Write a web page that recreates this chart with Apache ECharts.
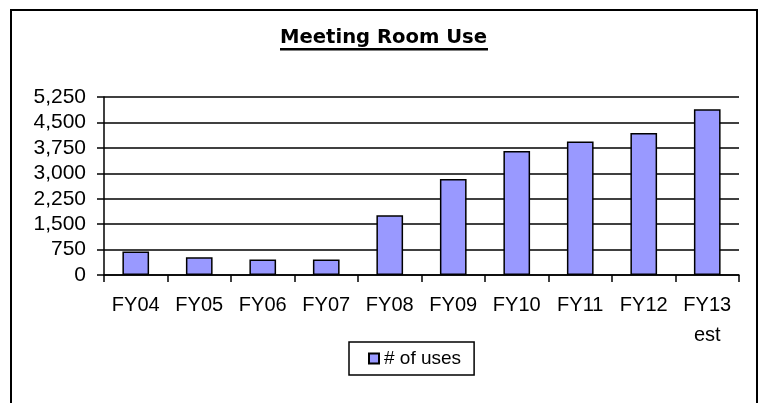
<!DOCTYPE html>
<html>
<head>
<meta charset="utf-8">
<title>Meeting Room Use</title>
<script src="https://cdn.jsdelivr.net/npm/echarts@6/dist/echarts.min.js"></script>
<style>
    html,
    body {
        margin: 0;
        padding: 0;
        background: #fff;
    }
    #chart {
        width: 762px;
        height: 403px;
    }
</style>
</head>
<body>
<div id="chart"></div>
<script>
// 年度
var years = ['FY04', 'FY05', 'FY06', 'FY07', 'FY08', 'FY09', 'FY10', 'FY11', 'FY12', 'FY13\nest'];
// 使用次数
var uses = [690, 520, 460, 460, 1760, 2830, 3660, 3940, 4190, 4890];
// 纵轴刻度
var yMin = 0;
var yMax = 5250;
var yStep = 750;

var chart = echarts.init(document.getElementById('chart'));

var labelFont = {
    color: '#000',
    fontFamily: 'Liberation Sans, Arial, sans-serif',
    fontSize: 20
};

var option = {
    animation: false,
    title: {
        text: 'Meeting Room Use',
        left: 280,
        top: 28,
        padding: 0,
        textStyle: {
            color: '#000',
            fontFamily: 'DejaVu Sans, sans-serif',
            fontWeight: 'bold',
            fontSize: 19.6
        }
    },
    // 外框 + 标题下划线
    graphic: [
        {
            type: 'rect',
            shape: { x: 11, y: 10, width: 746, height: 420 },
            style: { fill: 'none', stroke: '#000', lineWidth: 2 },
            silent: true
        },
        {
            type: 'rect',
            shape: { x: 280, y: 48, width: 208, height: 2.6 },
            style: { fill: '#000' },
            silent: true
        }
    ],
    legend: {
        left: 349,
        top: 342,
        padding: [7, 13, 7, 19],
        borderColor: '#000',
        borderWidth: 1.5,
        itemWidth: 10,
        itemHeight: 10,
        icon: 'rect',
        textStyle: {
            color: '#000',
            fontFamily: 'Liberation Sans, Arial, sans-serif',
            fontSize: 19
        },
        data: ['# of uses']
    },
    grid: {
        left: 104,
        right: 23,
        top: 97,
        bottom: 128
    },
    xAxis: {
        type: 'category',
        data: years,
        axisLine: { lineStyle: { color: '#000', width: 1.5 } },
        axisTick: {
            show: true,
            length: 7,
            lineStyle: { color: '#000', width: 1.5 }
        },
        axisLabel: Object.assign({ margin: 15, lineHeight: 30, interval: 0 }, labelFont)
    },
    yAxis: {
        type: 'value',
        min: yMin,
        max: yMax,
        interval: yStep,
        axisLine: { show: true, lineStyle: { color: '#000', width: 1.5 } },
        axisTick: {
            show: true,
            length: 7,
            lineStyle: { color: '#000', width: 1.5 }
        },
        splitLine: { show: true, lineStyle: { color: '#000', width: 1.5 } },
        axisLabel: Object.assign({}, labelFont, {
            margin: 18,
            fontSize: 21,
            formatter: function (v) {
                return v.toLocaleString('en-US');
            }
        })
    },
    series: [
        {
            name: '# of uses',
            type: 'bar',
            data: uses,
            barWidth: '42%',
            itemStyle: {
                color: '#9999ff',
                borderColor: '#000',
                borderWidth: 1.5
            }
        }
    ]
};

chart.setOption(option);
</script>
</body>
</html>
